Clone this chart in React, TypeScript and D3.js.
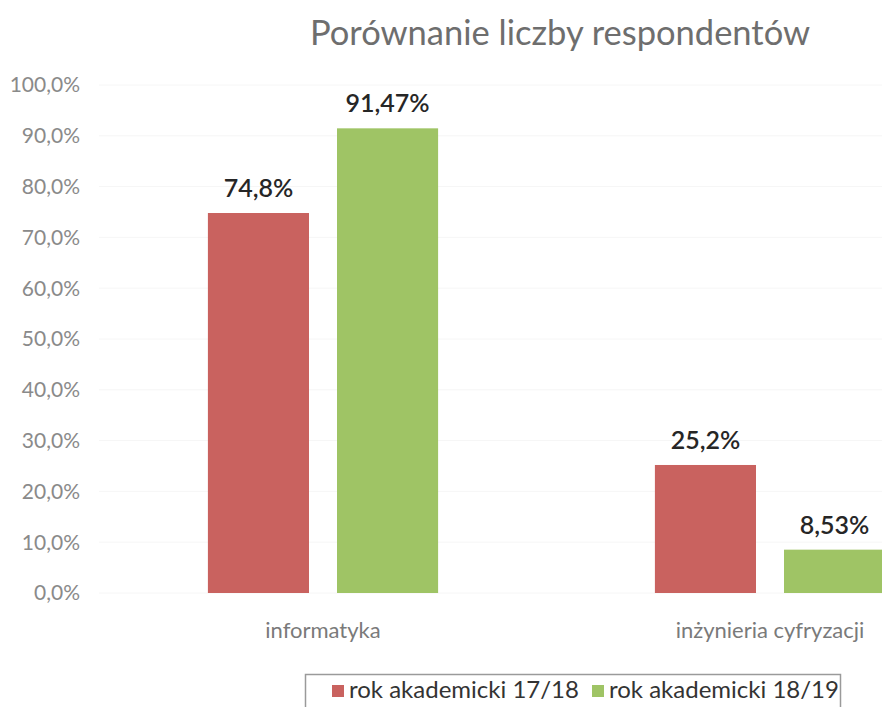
import React from "react";
import * as d3 from "d3";

const categories = ["informatyka", "inżynieria cyfryzacji"];
const seriesNames = ["rok akademicki 17/18", "rok akademicki 18/19"];
const series1718 = [74.8, 25.2];
const series1819 = [91.47, 8.53];
const labels1718 = ["74,8%", "25,2%"];
const labels1819 = ["91,47%", "8,53%"];
const yTicks = [0, 10, 20, 30, 40, 50, 60, 70, 80, 90, 100];
const colors = ["#c9625f", "#9fc465"];

const W = 882;
const H = 707;
const FONT = "Lato, 'Open Sans', sans-serif";

export default function App() {
  const y = d3.scaleLinear().domain([0, 100]).range([593, 85]);
  const x0 = d3
    .scaleBand<string>()
    .domain(categories)
    .range([99.5, 993.5])
    .paddingInner(0.485)
    .paddingOuter(0.2425);
  const x1 = d3
    .scaleBand<string>()
    .domain(seriesNames)
    .range([0, x0.bandwidth()])
    .paddingInner(0.217)
    .paddingOuter(0);
  const data = [series1718, series1819];
  const lbls = [labels1718, labels1819];
  const fmt = (v: number) => d3.format(".1f")(v).replace(".", ",") + "%";

  return (
    <svg
      width={W}
      height={H}
      style={{ position: "absolute", left: 0, top: 0, background: "#fff" }}
      fontFamily={FONT}
    >
      <rect x={0} y={0} width={W} height={H} fill="#fff" />
      {yTicks.map((t) => (
        <g key={t}>
          <line x1={99} x2={W} y1={y(t)} y2={y(t)} stroke="#f6f6f6" strokeWidth={1} />
          <text
            x={80}
            y={y(t)}
            dy="0.35em"
            textAnchor="end"
            fontSize={21}
            fill="#8a8a8a"
          >
            {fmt(t)}
          </text>
        </g>
      ))}
      <text x={560} y={45} textAnchor="middle" fontSize={34.5} fill="#6e6e6e">
        Porównanie liczby respondentów
      </text>
      {categories.map((c, ci) => (
        <g key={c} transform={`translate(${x0(c)},0)`}>
          {seriesNames.map((s, si) => {
            const v = data[si][ci];
            const bx = x1(s)!;
            const bw = x1.bandwidth();
            return (
              <g key={s}>
                <rect x={bx} y={y(v)} width={bw} height={y(0) - y(v)} fill={colors[si]} />
                <text
                  x={bx + bw / 2}
                  y={y(v) - 16}
                  textAnchor="middle"
                  fontSize={25}
                  fontWeight={600}
                  fill="#262626"
                >
                  {lbls[si][ci]}
                </text>
              </g>
            );
          })}
          <text
            x={x0.bandwidth() / 2}
            y={638}
            textAnchor="middle"
            fontSize={22}
            fill="#7a7a7a"
          >
            {c}
          </text>
        </g>
      ))}
      <rect x={305.5} y={674.5} width={535} height={40} fill="#fff" stroke="#9a9a9a" strokeWidth={1.5} />
      {seriesNames.map((s, i) => {
        const lx = i === 0 ? 332 : 592;
        return (
          <g key={s}>
            <rect x={lx} y={685} width={12} height={12} fill={colors[i]} />
            <text x={lx + 17} y={698} fontSize={24} fill="#333">
              {s}
            </text>
          </g>
        );
      })}
    </svg>
  );
}
